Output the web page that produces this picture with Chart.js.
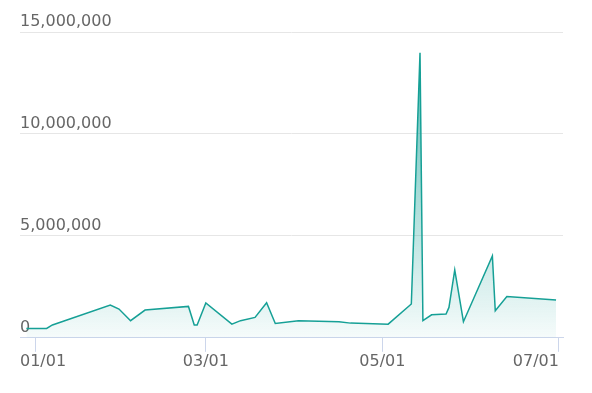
<!DOCTYPE html>
<html>
<head>
<meta charset="utf-8">
<script src="https://cdn.jsdelivr.net/npm/chart.js@4"></script>
<style>
  html, body { margin: 0; padding: 0; background: #fff; }
  #wrap { width: 592px; height: 393px; }
</style>
</head>
<body>
<div id="wrap"><canvas id="c1"></canvas></div>
<script>
// dates of the points
var dates = ['2020-12-29','2021-01-05','2021-01-07','2021-01-27','2021-01-30','2021-02-03','2021-02-08',
  '2021-02-23','2021-02-25','2021-02-26','2021-03-01','2021-03-10','2021-03-13','2021-03-18','2021-03-22',
  '2021-03-25','2021-04-02','2021-04-16','2021-04-20','2021-05-03','2021-05-11','2021-05-14','2021-05-15',
  '2021-05-18','2021-05-23','2021-05-24','2021-05-26','2021-05-29','2021-06-08','2021-06-09','2021-06-13',
  '2021-06-30'];
// values
var values = [460000, 460000, 630000, 1610000, 1410000, 840000, 1360000,
  1540000, 630000, 630000, 1710000, 670000, 840000, 1000000, 1720000,
  700000, 840000, 790000, 720000, 670000, 1660000, 13980000, 840000,
  1130000, 1170000, 1490000, 3330000, 790000, 4020000, 1330000, 2030000,
  1850000];
// x axis ticks
var tickDates = ['2021-01-01','2021-03-01','2021-05-01','2021-07-01'];
var tickLabels = ['01/01','03/01','05/01','07/01'];
var yTicks = [0, 5000000, 10000000, 15000000];

var base = Date.UTC(2021, 0, 1);
function toDay(s) {
  var p = s.split('-');
  return (Date.UTC(+p[0], +p[1] - 1, +p[2]) - base) / 86400000;
}
var pts = [];
for (var i = 0; i < dates.length; i++) {
  pts.push({x: toDay(dates[i]), y: values[i]});
}
var tickDays = tickDates.map(toDay);

// first x label starts at the left edge of the plot
var firstLabelLeft = {
  id: 'firstLabelLeft',
  beforeDraw: function(chart) {
    var items = chart.scales.x.getLabelItems();
    if (items && items.length) {
      items[0].options.textAlign = 'left';
      items[0].options.translation[0] = chart.chartArea.left;
    }
  }
};

var ctx = document.getElementById('c1').getContext('2d');
var chart1 = new Chart(ctx, {
  type: 'line',
  data: {
    datasets: [{
      data: pts,
      borderColor: '#16a096',
      borderWidth: 1.5,
      pointRadius: 0,
      tension: 0,
      fill: 'origin',
      backgroundColor: function(c) {
        var area = c.chart.chartArea;
        if (!area) return 'rgba(22,160,150,0.2)';
        var g = c.chart.ctx.createLinearGradient(0, area.top, 0, area.bottom);
        g.addColorStop(0, 'rgba(22,160,150,0.75)');
        g.addColorStop(1, 'rgba(22,160,150,0.04)');
        return g;
      }
    }]
  },
  options: {
    responsive: true,
    maintainAspectRatio: false,
    animation: false,
    layout: { padding: { left: 20, right: 29, top: 32, bottom: 22 } },
    plugins: { legend: { display: false }, tooltip: { enabled: false } },
    scales: {
      x: {
        type: 'linear',
        min: -5.2,
        max: 182.4,
        afterBuildTicks: function(scale) {
          scale.ticks = tickDays.map(function(v) { return {value: v}; });
        },
        grid: { drawOnChartArea: false, tickLength: 14, color: '#ccd6eb' },
        border: { color: '#ccd6eb', width: 1 },
        ticks: {
          align: 'inner',
          padding: 0,
          maxRotation: 0,
          autoSkip: false,
          color: '#666',
          font: { family: 'DejaVu Sans', size: 16 },
          callback: function(v) {
            var k = tickDays.indexOf(v);
            return k >= 0 ? tickLabels[k] : '';
          }
        }
      },
      y: {
        min: 0,
        max: 15000000,
        afterBuildTicks: function(scale) {
          scale.ticks = yTicks.map(function(v) { return {value: v}; });
        },
        border: { display: false },
        grid: {
          drawTicks: false,
          color: function(c) { return c.tick && c.tick.value === 0 ? 'rgba(0,0,0,0)' : '#e6e6e6'; }
        },
        ticks: {
          mirror: true,
          padding: 0,
          labelOffset: -10,
          color: '#666',
          font: { family: 'DejaVu Sans', size: 16 },
          callback: function(v) { return v.toLocaleString('en-US'); }
        }
      }
    }
  },
  plugins: [firstLabelLeft]
});
</script>
</body>
</html>
